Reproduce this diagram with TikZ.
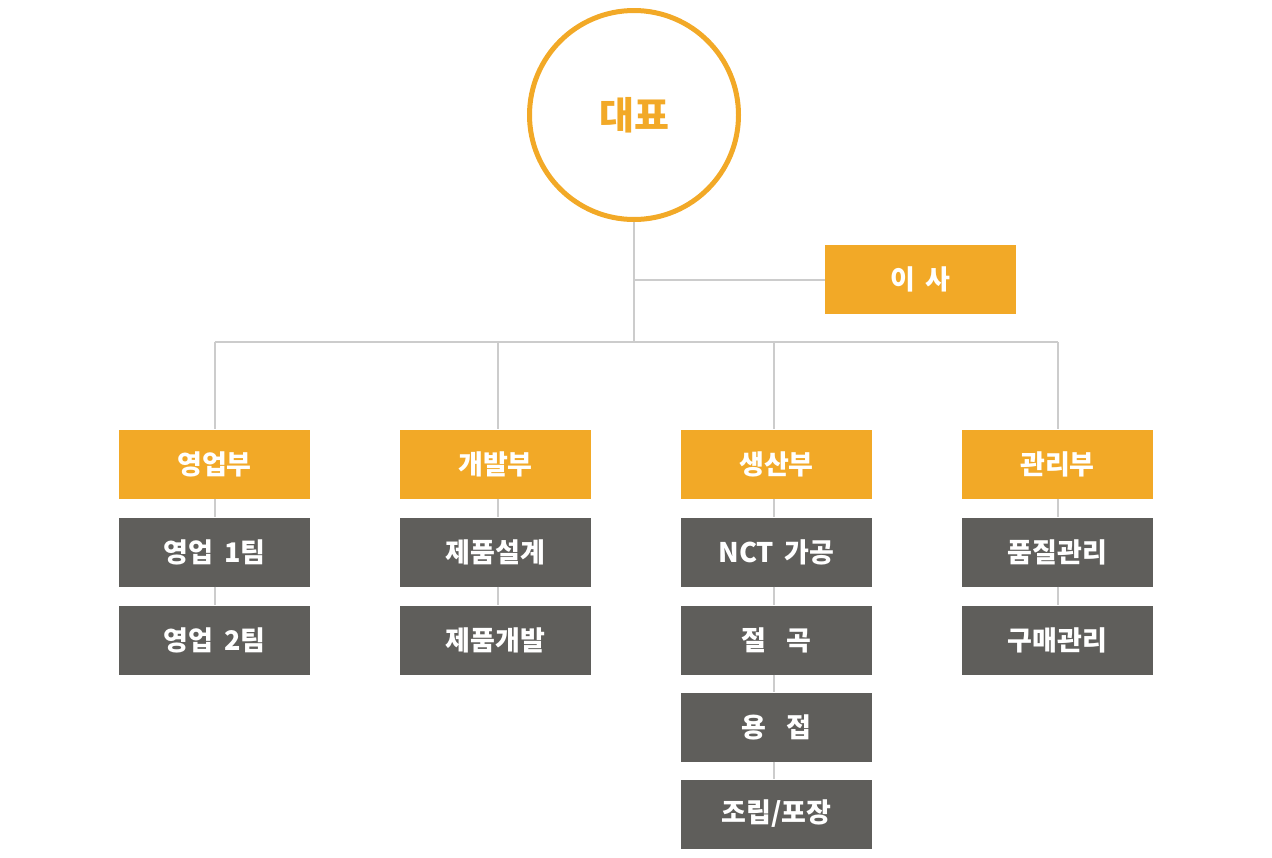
\documentclass[tikz,border=0pt]{standalone}
\usepackage{fontspec}
\setmainfont{Noto Sans CJK KR}
\definecolor{orng}{HTML}{F2A927}
\definecolor{dgray}{HTML}{5F5E5B}
\definecolor{lgray}{HTML}{CCCCCC}
\begin{document}
\begin{tikzpicture}[x=1pt,y=-1pt,
  conn/.style={draw=lgray,line width=2pt},
  deptbox/.style={fill=orng,minimum width=191pt,minimum height=69pt,inner sep=0pt,text=white,font=\bfseries\fontsize{27}{29}\selectfont},
  subbox/.style={fill=dgray,minimum width=191pt,minimum height=69pt,inner sep=0pt,text=white,font=\bfseries\fontsize{27}{29}\selectfont},
  ceo/.style={circle,draw=orng,line width=5pt,minimum size=209pt,inner sep=0pt,text=orng,font=\bfseries\fontsize{38}{40}\selectfont}]
\useasboundingbox (0,0) rectangle (1272,857);
% nodes
\node[ceo] (ceo) at (634,115) {대표};
\node[deptbox] (isa) at (920.5,279.5) {이\hspace{0.4em}사};
\node[deptbox] (d1) at (214.5,464) {영업부};
\node[deptbox] (d2) at (495.5,464) {개발부};
\node[deptbox] (d3) at (776.5,464) {생산부};
\node[deptbox] (d4) at (1057.5,464) {관리부};
\node[subbox] (s11) at (214.5,552) {영업\hspace{0.4em}1팀};
\node[subbox] (s12) at (214.5,640) {영업\hspace{0.4em}2팀};
\node[subbox] (s21) at (495.5,552) {제품설계};
\node[subbox] (s22) at (495.5,640) {제품개발};
\node[subbox] (s31) at (776.5,552) {NCT\hspace{0.4em}가공};
\node[subbox] (s32) at (776.5,640) {절\hspace{0.75em}곡};
\node[subbox] (s33) at (776.5,727) {용\hspace{0.75em}접};
\node[subbox] (s34) at (776.5,814) {조립/포장};
\node[subbox] (s41) at (1057.5,552) {품질관리};
\node[subbox] (s42) at (1057.5,640) {구매관리};
% junctions
\coordinate (jI) at (ceo.south |- isa.west);
\coordinate (jM) at (635,342);
\coordinate (j1) at (214.5,342);
\coordinate (j2) at (498,342);
\coordinate (j3) at (774,342);
\coordinate (j4) at (1057.5,342);
% connectors
\draw[conn] (ceo.south) -- (ceo.south |- jM);
\draw[conn] (jI) -- (isa.west);
\draw[conn] (j1) -- (j4);
\draw[conn] (j1) -- (j1 |- d1.north);
\draw[conn] (j2) -- (j2 |- d2.north);
\draw[conn] (j3) -- (j3 |- d3.north);
\draw[conn] (j4) -- (j4 |- d4.north);
\draw[conn] (j1 |- d1.south) -- (j1 |- s11.north);
\draw[conn] (j1 |- s11.south) -- (j1 |- s12.north);
\draw[conn] (j2 |- d2.south) -- (j2 |- s21.north);
\draw[conn] (j2 |- s21.south) -- (j2 |- s22.north);
\draw[conn] (j3 |- d3.south) -- (j3 |- s31.north);
\draw[conn] (j3 |- s31.south) -- (j3 |- s32.north);
\draw[conn] (j3 |- s32.south) -- (j3 |- s33.north);
\draw[conn] (j3 |- s33.south) -- (j3 |- s34.north);
\draw[conn] (j4 |- d4.south) -- (j4 |- s41.north);
\draw[conn] (j4 |- s41.south) -- (j4 |- s42.north);
\end{tikzpicture}
\end{document}
